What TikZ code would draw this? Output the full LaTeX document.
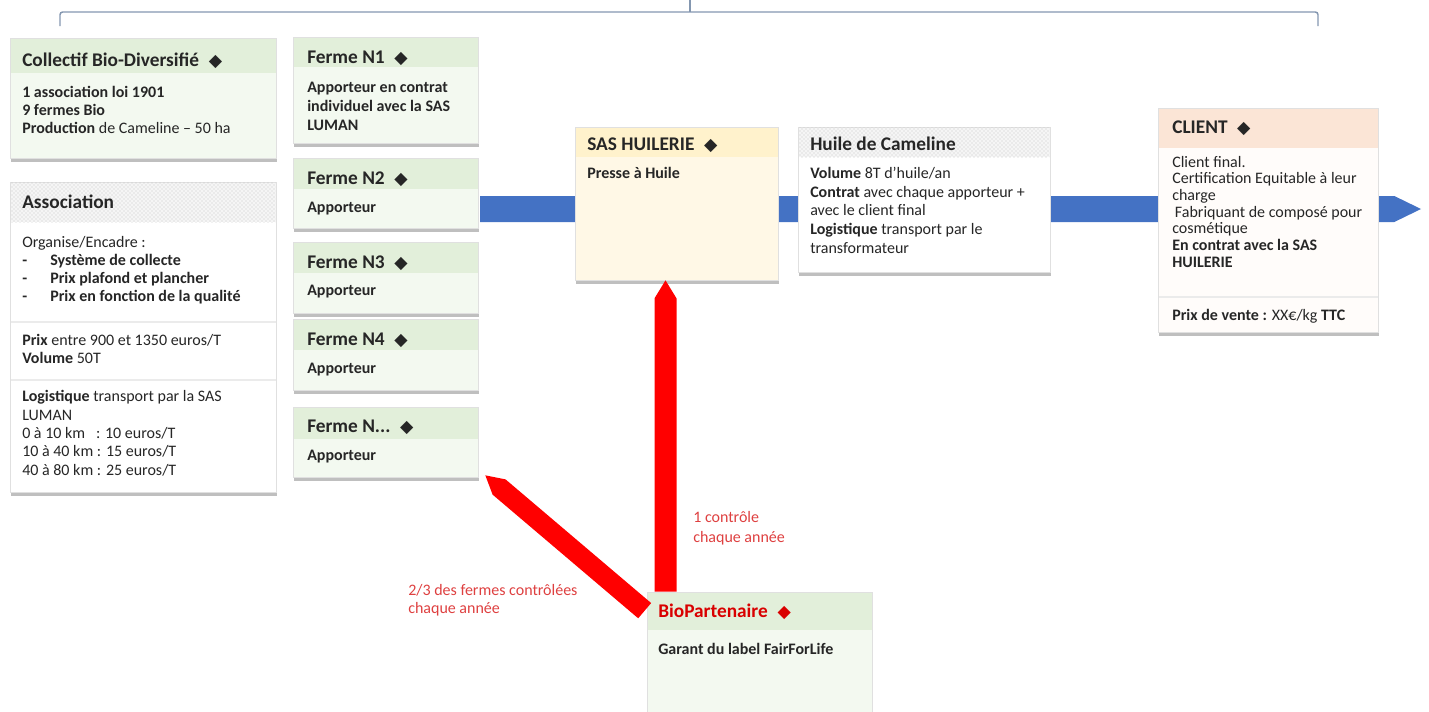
\documentclass[tikz,border=0pt]{standalone}
\usepackage{fontspec}
\setmainfont{Carlito}
\newfontfamily\symbolfont{DejaVu Sans}
\usetikzlibrary{calc,fit,shadows,patterns}

\definecolor{hdrgreen}{RGB}{226,239,218}
\definecolor{bodygreen}{RGB}{243,249,240}
\definecolor{hdryellow}{RGB}{255,242,204}
\definecolor{bodyyellow}{RGB}{255,248,230}
\definecolor{hdrpeach}{RGB}{251,229,214}
\definecolor{bodypeach}{RGB}{255,252,250}
\definecolor{flowblue}{RGB}{68,114,196}
\definecolor{ctlred}{RGB}{255,0,0}
\definecolor{notered}{RGB}{222,64,64}
\definecolor{bracegray}{RGB}{132,151,176}
\definecolor{inkgray}{RGB}{38,38,38}

\newcommand{\losange}{\hspace{0.5em}{\symbolfont\fontsize{13}{13}\selectfont ◆}}

% multi-line texts are placed by the baseline of their last line
\tikzset{
  box/.style={draw=black!12, line width=0.5pt, inner sep=0pt,
    drop shadow={shadow xshift=0.6pt, shadow yshift=-3pt, opacity=0.5}},
  hdr/.style={inner sep=0pt},
  hatch/.style={hdr, preaction={fill=gray!8}, pattern=crosshatch dots, pattern color=gray!45},
  title/.style={anchor=base west, inner sep=0pt, text=inkgray, font=\fontsize{14.5}{16}\selectfont\bfseries},
  txt/.style={anchor=base west, inner sep=0pt, align=left, text=inkgray, font=\fontsize{12}{13.5}\selectfont},
  note/.style={txt, text=notered},
  seprule/.style={draw=black!8, line width=1.2pt},
}

\begin{document}
\begin{tikzpicture}[x=0.75pt, y=-0.75pt]
\useasboundingbox (0,0) rectangle (1429,711);

% thick arrow: from, to, half width, head length, colour
\def\fatarrow#1#2#3#4#5{%
  \coordinate (fat-s) at ($(#2)!#4!(#1)$);
  \fill[#5] ($(#1)!#3!90:(#2)$) -- ($(fat-s)!#3!90:(#2)$) -- (#2)
    -- ($(fat-s)!#3!-90:(#2)$) -- ($(#1)!#3!-90:(#2)$) -- cycle;}

% bracket over the whole chain
\draw[bracegray, line width=1.1pt, rounded corners=2pt] (60,26) -- (60,12) -- (1318,12) -- (1318,26);
\draw[bracegray, line width=1.1pt] (690,0) -- (690,12);

% flow of the product
\coordinate (flowin) at (480,209);
\coordinate (flowout) at (1421,209);
\fatarrow{flowin}{flowout}{9.75pt}{20pt}{flowblue}

% collectif
\node[box, fill=bodygreen, fit={(10,38) (276,158)}] (collectif) {};
\node[hdr, fill=hdrgreen, fit={(10.5,38.5) (275.5,73)}] (collectif-h) {};
\node[title] at (22,66) {Collectif Bio-Diversifié\losange};
\node[txt] at (22,133) {\textbf{1 association loi 1901}\\\textbf{9 fermes Bio}\\\textbf{Production} de Cameline – 50 ha};

% association
\node[box, fill=white, fit={(10,182) (276,492)}] (assoc) {};
\node[hatch, fit={(10.5,182.5) (275.5,222)}] (assoc-h) {};
\node[title] at (22,208) {Association};
\node[txt] at (22,301) {Organise/Encadre :\\
  \makebox[21pt][l]{\textbf{-}}\textbf{Système de collecte}\\
  \makebox[21pt][l]{\textbf{-}}\textbf{Prix plafond et plancher}\\
  \makebox[21pt][l]{\textbf{-}}\textbf{Prix en fonction de la qualité}};
\draw[seprule] (10.5,322) -- (275.5,322);
\node[txt] at (22,363) {\textbf{Prix} entre 900 et 1350 euros/T\\\textbf{Volume} 50T};
\draw[seprule] (10.5,380) -- (275.5,380);
\node[txt, font=\fontsize{12}{13.7}\selectfont] at (22,475) {\textbf{Logistique} transport par la SAS\\LUMAN\\
  0 à 10 km\ \ \ : 10 euros/T\\10 à 40 km : 15 euros/T\\40 à 80 km : 25 euros/T};

% fermes
\node[box, fill=bodygreen, fit={(293,37) (478,143)}] (ferme1) {};
\node[hdr, fill=hdrgreen, fit={(293.5,37.5) (477.5,67)}] (ferme1-h) {};
\node[title] at (307,63) {Ferme N1\losange};
\node[txt, font=\fontsize{12}{14.2}\selectfont\bfseries] at (307,130) {Apporteur en contrat\\individuel avec la SAS\\LUMAN};

\node[box, fill=bodygreen, fit={(293,158) (478,228)}] (ferme2) {};
\node[hdr, fill=hdrgreen, fit={(293.5,158.5) (477.5,189)}] (ferme2-h) {};
\node[title] at (307,184) {Ferme N2\losange};
\node[txt, font=\fontsize{12}{13.5}\selectfont\bfseries] at (307,212) {Apporteur};

\node[box, fill=bodygreen, fit={(293,242) (478,313)}] (ferme3) {};
\node[hdr, fill=hdrgreen, fit={(293.5,242.5) (477.5,273)}] (ferme3-h) {};
\node[title] at (307,268) {Ferme N3\losange};
\node[txt, font=\fontsize{12}{13.5}\selectfont\bfseries] at (307,295) {Apporteur};

\node[box, fill=bodygreen, fit={(293,319) (478,390)}] (ferme4) {};
\node[hdr, fill=hdrgreen, fit={(293.5,319.5) (477.5,350)}] (ferme4-h) {};
\node[title] at (307,345) {Ferme N4\losange};
\node[txt, font=\fontsize{12}{13.5}\selectfont\bfseries] at (307,373) {Apporteur};

\node[box, fill=bodygreen, fit={(293,407) (478,477)}] (fermex) {};
\node[hdr, fill=hdrgreen, fit={(293.5,407.5) (477.5,439)}] (fermex-h) {};
\node[title] at (307,432) {Ferme N...\losange};
\node[txt, font=\fontsize{12}{13.5}\selectfont\bfseries] at (307,460) {Apporteur};

% huilerie
\node[box, fill=bodyyellow, fit={(575,127) (778,280)}] (sas) {};
\node[hdr, fill=hdryellow, fit={(575.5,127.5) (777.5,157)}] (sas-h) {};
\node[title] at (587,150) {SAS HUILERIE\losange};
\node[txt, font=\fontsize{12}{13.5}\selectfont\bfseries] at (587,178) {Presse à Huile};

% huile
\node[box, fill=white, fit={(798,127) (1050,272)}] (huile) {};
\node[hatch, fit={(798.5,127.5) (1049.5,157)}] (huile-h) {};
\node[title] at (810,150) {Huile de Cameline};
\node[txt, font=\fontsize{12}{14}\selectfont] at (810,253) {\textbf{Volume} 8T d’huile/an\\
  \textbf{Contrat} avec chaque apporteur +\\avec le client final\\
  \textbf{Logistique} transport par le\\transformateur};

% client
\node[box, fill=bodypeach, fit={(1158,108) (1378,332)}] (client) {};
\node[hdr, fill=hdrpeach, fit={(1158.5,108.5) (1377.5,148)}] (client-h) {};
\node[title] at (1172,133) {CLIENT\losange};
\node[txt, font=\fontsize{12}{12.5}\selectfont] at (1172,267) {Client final.\\Certification Equitable à leur\\charge\\
  \hspace*{2pt}Fabriquant de composé pour\\cosmétique\\
  \textbf{En contrat avec la SAS}\\\textbf{HUILERIE}};
\draw[seprule] (1158.5,297) -- (1377.5,297);
\node[txt] at (1172,320) {\textbf{Prix de vente :} XX€/kg \textbf{TTC}};

% certificateur
\node[box, fill=bodygreen, fit={(647,592) (872,716)}] (bio) {};
\node[hdr, fill=hdrgreen, fit={(647.5,592.5) (871.5,630)}] (bio-h) {};
\node[title, text=ctlred!85!black] at (658,617) {BioPartenaire\losange};
\node[txt, font=\fontsize{12}{13.5}\selectfont\bfseries] at (658,654) {Garant du label FairForLife};

% controles
\coordinate (ctl-top) at ($(sas.south)+(-11,0)$);
\coordinate (ctl-foot) at (ctl-top |- bio.north);
\fatarrow{ctl-foot}{ctl-top}{8.25pt}{13.5pt}{ctlred}
\coordinate (audit-a) at ($(bio.north west)+(-2,19)$);
\coordinate (audit-b) at ($(fermex.south east)+(7,-2)$);
\fatarrow{audit-a}{audit-b}{7.5pt}{13.5pt}{ctlred}

\node[note, font=\fontsize{12}{15}\selectfont] at (693,542) {1 contrôle\\chaque année};
\node[note] at (408,613) {2/3 des fermes contrôlées\\chaque année};

\end{tikzpicture}
\end{document}
